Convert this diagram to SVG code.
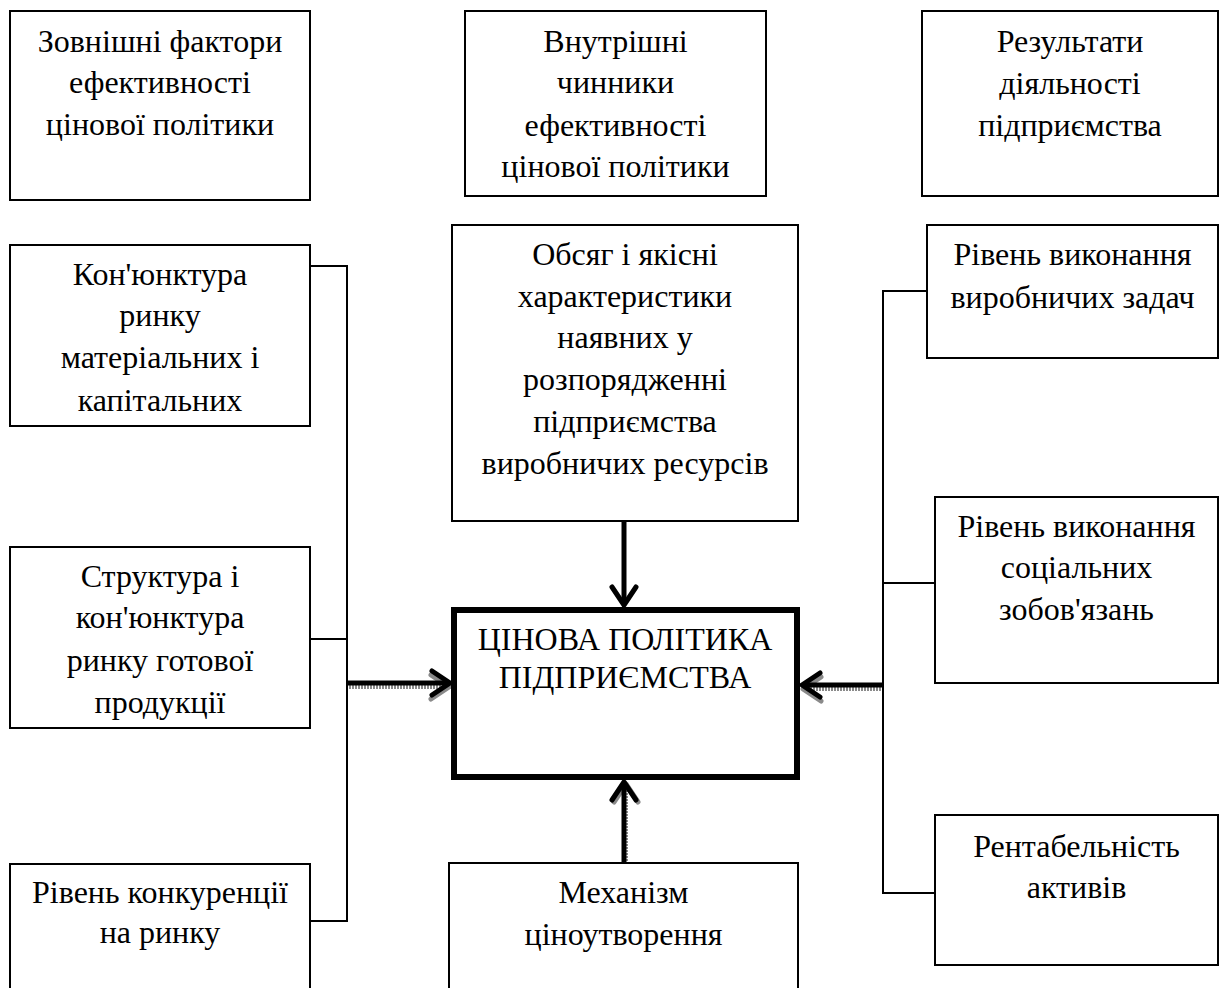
<svg xmlns="http://www.w3.org/2000/svg" width="1219" height="988" viewBox="0 0 1219 988">
<style>
.box{fill:#fff;stroke:#000;stroke-width:2}
.main{fill:#fff;stroke:#000;stroke-width:6}
.t{font-family:"Liberation Serif","Times New Roman",serif;font-size:32px;fill:#000;text-anchor:middle}
.con{fill:none;stroke:#000;stroke-width:2}
.arr{fill:none;stroke:#000;stroke-width:5}
.sh{fill:none;stroke:#8a8a8a;stroke-width:4;stroke-dasharray:2 1}
</style>
<defs>
<marker id="ah" viewBox="0 0 24 28" markerWidth="24" markerHeight="28" markerUnits="userSpaceOnUse" refX="21" refY="14" orient="auto" overflow="visible">
<path d="M3,2 L21,14 L3,26" fill="none" stroke="#000" stroke-width="5" stroke-linejoin="round" stroke-linecap="round"/>
</marker>
<marker id="ahs" viewBox="0 0 24 28" markerWidth="24" markerHeight="28" markerUnits="userSpaceOnUse" refX="21" refY="14" orient="auto" overflow="visible">
<path d="M3,2 L21,14 L3,26" fill="none" stroke="#8a8a8a" stroke-width="5" stroke-linejoin="round" stroke-linecap="round"/>
</marker>
</defs>
<rect width="1219" height="988" fill="#fff"/>

<g id="connectors">
<polyline class="con" points="310,266 347,266 347,921 310,921"/>
<line class="con" x1="310" y1="639" x2="347" y2="639"/>
<polyline class="con" points="927,291 883,291 883,893 935,893"/>
<line class="con" x1="883" y1="583" x2="935" y2="583"/>
<line class="sh" x1="349" y1="687" x2="449" y2="687" marker-end="url(#ahs)"/>
<line class="arr" x1="347" y1="683" x2="450" y2="683" marker-end="url(#ah)"/>
<line class="sh" x1="881" y1="689" x2="803" y2="689" marker-end="url(#ahs)"/>
<line class="arr" x1="883" y1="685" x2="802" y2="685" marker-end="url(#ah)"/>
<line class="arr" x1="624" y1="521" x2="624" y2="605" marker-end="url(#ah)"/>
<line class="sh" x1="626" y1="861" x2="626" y2="784" marker-end="url(#ahs)"/>
<line class="arr" x1="624" y1="863" x2="624" y2="782" marker-end="url(#ah)"/>
</g>

<g id="ext">
<rect class="box" x="10" y="11" width="300" height="189"/>
<text class="t" x="160" y="52">Зовнішні фактори</text>
<text class="t" x="160" y="93">ефективності</text>
<text class="t" x="160" y="135">цінової політики</text>
</g>
<g id="int">
<rect class="box" x="465" y="11" width="301" height="185"/>
<text class="t" x="615.5" y="52">Внутрішні</text>
<text class="t" x="615.5" y="93">чинники</text>
<text class="t" x="615.5" y="136">ефективності</text>
<text class="t" x="615.5" y="177">цінової політики</text>
</g>
<g id="res">
<rect class="box" x="922" y="11" width="296" height="185"/>
<text class="t" x="1070" y="52">Результати</text>
<text class="t" x="1070" y="94">діяльності</text>
<text class="t" x="1070" y="136">підприємства</text>
</g>
<g id="kon">
<rect class="box" x="10" y="245" width="300" height="181"/>
<text class="t" x="160" y="285">Кон'юнктура</text>
<text class="t" x="160" y="326">ринку</text>
<text class="t" x="160" y="368">матеріальних і</text>
<text class="t" x="160" y="411">капітальних</text>
</g>
<g id="obs">
<rect class="box" x="452" y="225" width="346" height="296"/>
<text class="t" x="625" y="265">Обсяг і якісні</text>
<text class="t" x="625" y="307">характеристики</text>
<text class="t" x="625" y="348">наявних у</text>
<text class="t" x="625" y="390">розпорядженні</text>
<text class="t" x="625" y="432">підприємства</text>
<text class="t" x="625" y="474">виробничих ресурсів</text>
</g>
<g id="r1">
<rect class="box" x="927" y="225" width="291" height="133"/>
<text class="t" x="1072.5" y="265">Рівень виконання</text>
<text class="t" x="1072.5" y="308">виробничих задач</text>
</g>
<g id="str">
<rect class="box" x="10" y="547" width="300" height="181"/>
<text class="t" x="160" y="587">Структура і</text>
<text class="t" x="160" y="628">кон'юнктура</text>
<text class="t" x="160" y="671">ринку готової</text>
<text class="t" x="160" y="713">продукції</text>
</g>
<g id="center">
<rect class="main" x="454" y="610" width="343" height="167"/>
<text class="t" x="625" y="650">ЦІНОВА ПОЛІТИКА</text>
<text class="t" x="625" y="688">ПІДПРИЄМСТВА</text>
</g>
<g id="r2">
<rect class="box" x="935" y="497" width="283" height="186"/>
<text class="t" x="1076.5" y="537">Рівень виконання</text>
<text class="t" x="1076.5" y="578">соціальних</text>
<text class="t" x="1076.5" y="620">зобов'язань</text>
</g>
<g id="riv">
<rect class="box" x="10" y="864" width="300" height="131"/>
<text class="t" x="160" y="903">Рівень конкуренції</text>
<text class="t" x="160" y="943">на ринку</text>
</g>
<g id="mech">
<rect class="box" x="449" y="863" width="349" height="132"/>
<text class="t" x="623.5" y="903">Механізм</text>
<text class="t" x="623.5" y="945">ціноутворення</text>
</g>
<g id="rent">
<rect class="box" x="935" y="815" width="283" height="150"/>
<text class="t" x="1076.5" y="857">Рентабельність</text>
<text class="t" x="1076.5" y="898">активів</text>
</g>
</svg>
